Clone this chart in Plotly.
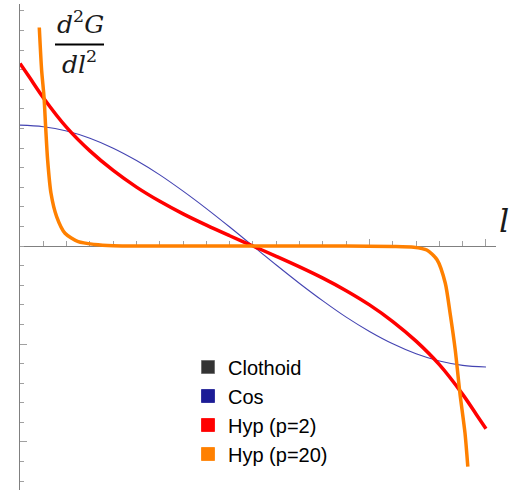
import plotly.graph_objects as go

# ---- data ----
series_names = ["Clothoid", "Cos", "Hyp (p=2)", "Hyp (p=20)"]
series_colors = ["#333333", "#1c1c96", "#ff0000", "#ff8000"]

cos_l = [0.0, 0.05, 0.1, 0.15, 0.2, 0.25, 0.3, 0.35, 0.4, 0.45, 0.5,
         0.55, 0.6, 0.65, 0.7, 0.75, 0.8, 0.85, 0.9, 0.95, 1.0]
cos_y = [0.617, 0.609, 0.587, 0.550, 0.499, 0.436, 0.363, 0.280, 0.191, 0.097, 0.0,
         -0.097, -0.191, -0.280, -0.363, -0.436, -0.499, -0.550, -0.587, -0.609, -0.617]

hyp2_l = [0.0, 0.02, 0.05, 0.1, 0.15, 0.2, 0.25, 0.3, 0.35, 0.4, 0.45, 0.5,
          0.55, 0.6, 0.65, 0.7, 0.75, 0.8, 0.85, 0.9, 0.95, 0.98, 1.0]
hyp2_y = [0.932, 0.862, 0.757, 0.6055, 0.4855, 0.3855, 0.3005, 0.228, 0.164, 0.1065, 0.0525, 0.0,
          -0.0525, -0.1065, -0.164, -0.228, -0.3005, -0.3855, -0.4855, -0.6055, -0.757, -0.862, -0.932]

hyp20_l = [0.0414, 0.0464, 0.0515, 0.055, 0.0593, 0.0665, 0.0786, 0.0966, 0.125, 0.16, 0.2,
           0.3, 0.4, 0.5, 0.6, 0.7, 0.8, 0.845, 0.873, 0.895, 0.9127, 0.923, 0.934, 0.944, 0.955, 0.961]
hyp20_y = [1.115, 0.898, 0.762, 0.609, 0.439, 0.269, 0.150, 0.065, 0.022, 0.008, 0.002,
           0.0, 0.0, 0.0, 0.0, 0.0, -0.002, -0.006, -0.020, -0.070, -0.190, -0.343, -0.530, -0.750, -0.955, -1.126]

x_major_ticks = [0.75, 1.0]
y_major_ticks = [-1.0, -0.5]

# ---- layout geometry ----
W, H = 516, 492
ML, MR, MT, MB = 20, 20, 4, 2
X_RANGE = [0.0, 1.0215]
Y_RANGE = [-1.245, 1.235]
PW, PH = W - ML - MR, H - MT - MB


def px_x(px):
    return (px - ML) / PW


def px_y(py):
    return 1 - (py - MT) / PH


fig = go.Figure()

# curves
fig.add_trace(go.Scatter(x=cos_l, y=cos_y, mode="lines", showlegend=False,
                         line=dict(color="#4444b2", width=1.1, shape="spline"),
                         hoverinfo="skip"))
fig.add_trace(go.Scatter(x=hyp2_l, y=hyp2_y, mode="lines", showlegend=False,
                         line=dict(color=series_colors[2], width=3.5, shape="spline"),
                         hoverinfo="skip"))
fig.add_trace(go.Scatter(x=hyp20_l, y=hyp20_y, mode="lines", showlegend=False,
                         line=dict(color=series_colors[3], width=3.5, shape="spline", smoothing=0.7),
                         hoverinfo="skip"))

# legend entries (square swatches)
for i, (name, col) in enumerate(zip(series_names, series_colors)):
    fig.add_trace(go.Scatter(x=[None], y=[None], mode="markers", name=name,
                             legendgroup=f"g{i}",
                             marker=dict(symbol="square", size=13, color=col,
                                         line=dict(color="#666666" if i == 0 else col, width=0.8))))

axis_col = "#808080"
tick_col = "#a0a0a0"

fig.update_layout(
    width=W, height=H,
    margin=dict(l=ML, r=MR, t=MT, b=MB, pad=0),
    paper_bgcolor="white", plot_bgcolor="white",
    showlegend=True,
    legend=dict(x=px_x(188), y=px_y(347.5), xanchor="left", yanchor="top",
                bgcolor="rgba(0,0,0,0)", borderwidth=0,
                font=dict(family="Liberation Sans, Arial, sans-serif", size=20, color="#000000"),
                tracegroupgap=0, itemsizing="trace"),
    xaxis=dict(range=X_RANGE, showgrid=False, zeroline=False,
               showline=True, linecolor=axis_col, linewidth=1,
               anchor="free", position=(0 - Y_RANGE[0]) / (Y_RANGE[1] - Y_RANGE[0]),
               tickmode="array", tickvals=x_major_ticks, ticks="inside", ticklen=7,
               tickcolor=tick_col, tickwidth=1, showticklabels=False,
               minor=dict(tickmode="linear", tick0=0, dtick=0.05, ticks="inside",
                          ticklen=5, tickcolor=tick_col, tickwidth=1, showgrid=False),
               layer="below traces", fixedrange=True),
    yaxis=dict(range=Y_RANGE, showgrid=False, zeroline=False,
               showline=True, linecolor=axis_col, linewidth=1,
               tickmode="array", tickvals=y_major_ticks, ticks="inside", ticklen=7,
               tickcolor=tick_col, tickwidth=1, showticklabels=False,
               minor=dict(tickmode="linear", tick0=0, dtick=0.1, ticks="inside",
                          ticklen=4, tickcolor=tick_col, tickwidth=1, showgrid=False),
               layer="below traces", fixedrange=True),
)

math_font = dict(family="DejaVu Serif, serif", size=25, color="#1a1a1a")

fig.add_annotation(xref="paper", yref="paper", x=px_x(80), y=px_y(23),
                   text="<i>d</i><sup>2</sup><i>G</i>", showarrow=False,
                   xanchor="center", yanchor="middle", font=math_font)
fig.add_shape(type="line", xref="paper", yref="paper",
              x0=px_x(55), x1=px_x(104), y0=px_y(44.5), y1=px_y(44.5),
              line=dict(color="#000000", width=2.2))
fig.add_annotation(xref="paper", yref="paper", x=px_x(79), y=px_y(62),
                   text="<i>dl</i><sup>2</sup>", showarrow=False,
                   xanchor="center", yanchor="middle", font=math_font)
fig.add_annotation(xref="paper", yref="paper", x=px_x(504), y=px_y(221),
                   text="<i>l</i>", showarrow=False,
                   xanchor="center", yanchor="middle",
                   font=dict(family="DejaVu Serif, serif", size=32, color="#1a1a1a"))

fig.write_html("out.html", config={"displayModeBar": False},
               post_script="document.body.style.margin='0px';")
